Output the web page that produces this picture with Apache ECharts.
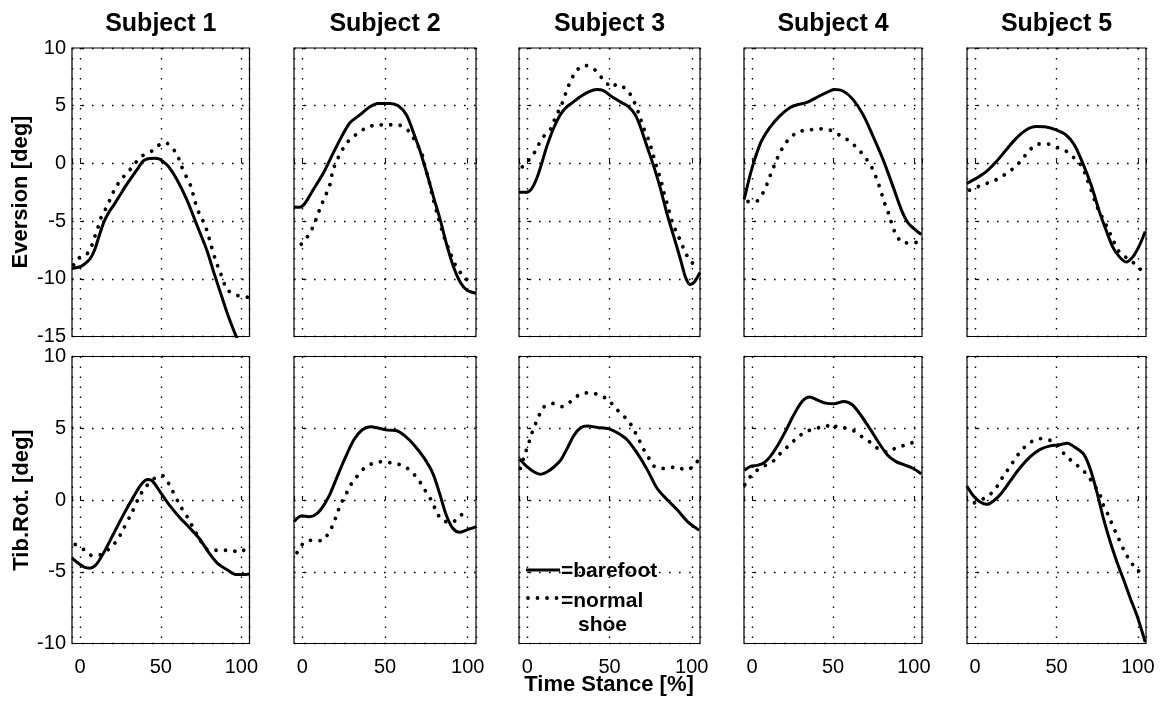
<!DOCTYPE html>
<html><head><meta charset="utf-8">
<script src="https://cdn.jsdelivr.net/npm/echarts@6/dist/echarts.min.js"></script>
<style>html,body{margin:0;padding:0;background:#fff}#c{width:1160px;height:701px}</style>
</head><body><div id="c"></div>
<script>
// ---------- DATA ----------
const subjects = ['Subject 1','Subject 2','Subject 3','Subject 4','Subject 5'];
const rowNames = ['Eversion [deg]','Tib.Rot. [deg]'];
const xTickLabels = [0, 50, 100];
const evTickLabels = [-15, -10, -5, 0, 5, 10];
const tibTickLabels = [-10, -5, 0, 5, 10];
const xLabel = 'Time Stance [%]';
const legendNames = ['=barefoot', '=normal', 'shoe'];

// Eversion, barefoot (solid) and normal shoe (dotted): [time %, deg]
const ev1Bare = [[-5,-9.1],[-1,-9.0],[2,-8.8],[6,-8.3],[9,-7.5],[12,-6.2],[15,-5.0],[18,-4.2],[21,-3.6],[25,-2.7],[29,-1.8],[33,-1.0],[36,-0.4],[39,0.2],[42,0.4],[46,0.45],[49,0.4],[52,0.1],[55,-0.3],[60,-1.4],[66,-3.1],[72,-5.2],[76,-6.6],[79,-7.7],[83,-9.5],[87,-11.2],[91,-12.9],[95,-14.4],[98,-15.4],[101,-16.3]];
const ev1Shoe = [[-4,-8.8],[-2,-8.3],[1,-8.1],[4,-7.9],[7,-7.2],[9,-6.4],[11,-5.6],[13,-4.7],[16,-3.9],[19,-3.0],[22,-2.1],[26,-1.3],[30,-0.7],[34,0],[38,0.6],[42,0.9],[46,1.2],[49,1.6],[53,1.8],[56,1.5],[60,0.8],[63,-0.3],[66,-1.2],[69,-2.1],[71,-3.2],[74,-4.4],[77,-5.2],[79,-6.0],[81,-7.0],[84,-8.4],[87,-9.5],[91,-10.9],[95,-11.3],[99,-11.5],[104,-11.6]];
const ev2Bare = [[-5,-3.77],[-1.6,-3.8],[1.4,-3.5],[6.5,-2.3],[12.5,-0.9],[18.6,0.87],[23.7,2.3],[28.7,3.5],[34.8,4.2],[40.9,4.9],[45.7,5.2],[53,5.2],[58,5.0],[63,4.2],[67,2.75],[71,1.16],[75.3,-0.87],[79.3,-2.9],[83.4,-4.9],[87.4,-7.1],[91.5,-9.0],[95.5,-10.3],[99.6,-11.0],[105,-11.25]];
const ev2Shoe = [[-0.6,-7.0],[3.4,-6.3],[6.5,-5.5],[9,-4.6],[11,-3.8],[14,-2.8],[16.6,-1.9],[18.5,-0.6],[21.7,0.5],[24.7,1.3],[28.3,2.0],[33.4,2.6],[38.9,3.1],[44.9,3.33],[51.4,3.35],[58,3.33],[63.6,2.9],[67.2,2.2],[70.2,1.45],[72.9,0.58],[74.3,-0.43],[76.3,-1.3],[78.3,-2.6],[81.4,-4.3],[85.8,-6.4],[88.5,-7.4],[92.5,-8.8],[96.6,-9.65],[101.2,-10.3]];
const ev3Bare = [[-5,-2.5],[-0.4,-2.5],[2.6,-2.2],[5.7,-1.33],[8.8,0],[11.8,1.42],[15.9,3.0],[20,4.2],[24,4.9],[28.1,5.33],[32.2,5.77],[37.3,6.2],[42.4,6.4],[46.4,6.3],[51.5,5.77],[56.6,5.33],[61.7,4.9],[65.8,4.17],[68.8,3.16],[72.9,1.42],[77,-0.3],[81,-2.2],[85,-4.4],[89.2,-6.4],[93.3,-8.4],[96.3,-9.9],[99,-10.5],[101.4,-10.3],[105,-9.45]];
const ev3Shoe = [[-3,-0.3],[-0.8,0],[3.7,0.78],[6.7,1.57],[9.8,2.3],[14.3,3.0],[16.9,3.9],[19.5,4.67],[22,5.48],[24,6.35],[26.5,7.16],[29.7,8.0],[34.8,8.5],[40.3,8.2],[44.8,7.5],[48.9,6.87],[51.5,7.07],[55,6.6],[58.2,6.6],[62.3,6.06],[65.4,5.2],[67.8,4.3],[70.9,3.0],[73.9,2.0],[76,1.0],[78,0],[80,-0.9],[81.5,-1.62],[83,-2.5],[85,-3.5],[88.2,-5.1],[90.8,-6.0],[93.3,-6.75],[95.7,-7.6],[99,-8.43],[103.5,-9.0]];
const ev4Bare = [[-4.9,-3.12],[-1.4,-1.1],[1.6,0.35],[5.8,1.94],[10.9,3.1],[17,4.1],[23.3,4.83],[28.4,5.1],[33.5,5.26],[39.7,5.7],[45.9,6.13],[51,6.4],[56.2,6.27],[62.3,5.55],[68.5,4.25],[74.7,2.37],[80.9,0.35],[87,-1.97],[92.2,-4.0],[96.3,-5.14],[100.4,-5.7],[104.5,-6.16]];
const ev4Shoe = [[-2.5,-3.3],[2.7,-3.27],[6.8,-2.54],[9.3,-1.76],[11.5,-0.95],[14,-0.09],[16.7,0.78],[19.6,1.5],[23.3,2.2],[28.8,2.75],[35.2,2.9],[41.8,3.0],[47.9,2.9],[52,2.6],[56.2,2.3],[61.3,1.8],[66,1.16],[70,0.5],[73.7,-0.29],[76.3,-1.1],[78.4,-1.9],[80.5,-2.83],[82.5,-3.7],[85,-4.57],[86.6,-5.4],[89.1,-6.16],[93.2,-6.88],[99.4,-6.88],[103.5,-6.8]];
const ev5Bare = [[-5.1,-1.74],[0.6,-1.3],[6.8,-0.72],[12.9,0.14],[19,1.16],[25.2,2.17],[31.3,2.9],[37.5,3.19],[43.6,3.16],[49.8,2.9],[55.9,2.46],[61,1.6],[66.2,0],[71.3,-1.88],[76.4,-4.2],[80.5,-5.8],[84.6,-7.25],[88.7,-8.1],[92.8,-8.55],[96.9,-8.1],[101,-7.1],[104.5,-5.9]];
const ev5Shoe = [[-3.5,-2.32],[3.1,-1.94],[8.8,-1.65],[14.5,-1.3],[20.1,-0.78],[25.2,-0.23],[29.3,0.43],[33,1.07],[38.5,1.68],[44.7,1.68],[50.8,1.36],[56.6,1.0],[61.1,0.43],[65.8,-0.29],[68.2,-1.16],[71.3,-2.32],[74.4,-3.6],[77.5,-4.5],[80.5,-5.36],[83,-6.1],[88.7,-7.7],[93.9,-8.26],[99.4,-8.84],[103.5,-9.5]];

// Tibial rotation, barefoot (solid) and normal shoe (dotted)
const tib1Bare = [[-5,-4.05],[0,-4.5],[3,-4.7],[6,-4.75],[10,-4.5],[15,-3.6],[21,-2.3],[27,-1.0],[33,0.2],[38,1.1],[42,1.42],[45,1.3],[50,0.5],[56,-0.45],[62,-1.25],[68,-1.95],[74,-2.7],[80,-3.7],[85,-4.4],[91,-4.85],[97,-5.2],[101,-5.2],[105,-5.15]];
const tib1Shoe = [[-3,-3.1],[3,-3.5],[8,-3.9],[13,-3.8],[18,-3.4],[23,-2.8],[26,-2.2],[32,-0.9],[37,0.3],[41,0.95],[46,1.5],[51,1.7],[56,0.9],[62,-0.4],[66,-1.1],[69,-1.7],[75,-2.9],[80,-3.5],[87,-3.5],[93,-3.5],[99,-3.65],[104,-3.2]];
const tib2Bare = [[-5,-1.5],[-0.2,-1.1],[3.9,-1.16],[6.9,-1.1],[11,-0.7],[16,0.23],[21,1.6],[26.2,3.0],[31.2,4.2],[36.3,4.9],[41.4,5.1],[46.4,5.0],[51.5,4.87],[56.6,4.85],[61.7,4.5],[67.8,3.8],[73.8,2.9],[78.9,1.86],[83,0.46],[87,-1.04],[91,-1.97],[95,-2.25],[99.2,-2.1],[105,-1.86]];
const tib2Shoe = [[-3.2,-3.67],[0.8,-3.0],[5.9,-2.8],[12,-2.83],[16,-2.27],[19,-1.62],[21,-0.95],[23.5,-0.23],[26.4,0.4],[29.2,1.04],[32.9,1.62],[37.3,2.2],[42.4,2.55],[48.5,2.67],[55.6,2.55],[58.6,2.48],[63.7,2.2],[68.4,1.67],[72.4,1.04],[75.3,0.46],[78.5,-0.12],[81,-0.8],[84.6,-1.4],[90,-1.58],[95.7,-1.07],[100.8,-0.7]];
const tib3Bare = [[-4.7,2.85],[0,2.3],[4,1.97],[8.1,1.79],[12.2,1.97],[16.2,2.3],[20.3,2.78],[24.3,3.6],[28.4,4.5],[32.5,5.03],[36.5,5.15],[42.6,5.06],[49.7,4.96],[54.8,4.68],[60.8,4.18],[66.9,3.25],[73,2.1],[79,0.8],[85.2,0],[91.3,-0.7],[97.4,-1.5],[104.5,-2.1]];
const tib3Shoe = [[-4.2,2.2],[-1.6,3.13],[0.6,3.83],[2.4,4.52],[4.5,5.15],[7.1,5.85],[9.7,6.45],[15.2,6.73],[21.3,6.5],[26.8,6.9],[32,7.36],[38,7.47],[44,7.3],[49.4,6.96],[53.8,6.38],[58.2,5.9],[61.9,5.45],[64.9,4.87],[68,4.18],[71,3.48],[74,2.9],[77.5,2.32],[83.2,2.2],[90.3,2.3],[96.3,2.1],[102,2.44],[104.5,3.0]];
const tib4Bare = [[-4.7,2.06],[-1,2.34],[3.1,2.41],[7.2,2.58],[11.3,3.04],[15.5,3.74],[20.6,4.78],[25.8,5.94],[30.9,6.87],[35.7,7.17],[40.2,6.98],[45.4,6.75],[50.5,6.7],[56.7,6.87],[61.9,6.64],[67,5.94],[73.2,4.9],[78.4,3.97],[83.5,3.16],[88.7,2.69],[93.8,2.46],[99,2.23],[104.5,1.83]];
const tib4Shoe = [[-4.5,1.07],[-1,1.65],[3.5,2.11],[8.9,2.46],[14,2.8],[18.6,3.39],[23.3,3.85],[28.2,4.38],[33.6,4.78],[39.8,4.99],[46,5.2],[49.1,4.96],[52.2,5.13],[56.1,5.06],[62.5,4.85],[67.6,4.43],[72.8,4.04],[78,3.57],[83.9,3.34],[89.7,3.69],[95.9,3.85],[101.6,4.13]];
const tib5Bare = [[-5.1,0.98],[-1,0.28],[3.1,-0.14],[7.2,-0.3],[11.3,-0.07],[16.4,0.51],[21.6,1.33],[27.7,2.26],[33.9,3.02],[40,3.53],[46.2,3.77],[51.3,3.84],[56.5,3.95],[61.6,3.65],[66.7,3.19],[70.8,2.14],[74.9,0.51],[79,-1.35],[83.2,-2.98],[87.3,-4.37],[91.4,-5.6],[95.5,-6.9],[99.6,-8.1],[104.5,-9.9]];
const tib5Shoe = [[-0.4,-0.19],[5.1,0.09],[10.3,0.51],[14.4,1.09],[17.5,1.72],[21.1,2.26],[24.6,2.88],[28.7,3.49],[33.5,3.98],[39.4,4.28],[45.2,4.19],[50.3,3.88],[55.4,3.12],[62,2.49],[66.7,2.02],[70.8,1.44],[74.9,0.74],[77,0.28],[79,-0.42],[82.1,-1.12],[84.6,-1.81],[87.3,-2.47],[92.4,-3.72],[95.9,-4.33],[100,-4.95],[103.7,-4.88]];

const evBare = [ev1Bare, ev2Bare, ev3Bare, ev4Bare, ev5Bare];
const evShoe = [ev1Shoe, ev2Shoe, ev3Shoe, ev4Shoe, ev5Shoe];
const tibBare = [tib1Bare, tib2Bare, tib3Bare, tib4Bare, tib5Bare];
const tibShoe = [tib1Shoe, tib2Shoe, tib3Shoe, tib4Shoe, tib5Shoe];

// ---------- LAYOUT ----------
const FONT = '"Liberation Sans", Arial, Helvetica, sans-serif';
const colLeft = [72, 294, 519, 744, 967];
const colWidth = [177.5, 182, 181, 178, 179];
const rowTop = [48, 356.5];
const rowHeight = [288.5, 287];
const yRange = [[-15, 10], [-10, 10]];

const grids = [], xAxes = [], yAxes = [], series = [];
const gridLine = { color: '#000', width: 1.4, type: [1.6, 8.4] };

for (let r = 0; r < 2; r++) {
  for (let c = 0; c < 5; c++) {
    const i = r * 5 + c;
    grids.push({ left: colLeft[c], top: rowTop[r], width: colWidth[c], height: rowHeight[r],
      show: true, borderColor: '#000', borderWidth: 1.2, backgroundColor: '#fff' });
    xAxes.push({ type: 'value', gridIndex: i, min: -5, max: 105, splitNumber: 2,
      minInterval: 50, maxInterval: 50,
      axisLine: { show: false },
      axisTick: { show: true, inside: true, length: 4, lineStyle: { color: '#000' } },
      axisLabel: { show: r === 1, color: '#000', fontSize: 20, fontFamily: FONT, margin: 14,
        formatter: v => xTickLabels.includes(v) ? String(v) : '' },
      splitLine: { show: true, lineStyle: gridLine } });
    const ticks = r === 0 ? evTickLabels : tibTickLabels;
    yAxes.push({ type: 'value', gridIndex: i, min: yRange[r][0], max: yRange[r][1], interval: 5,
      axisLine: { show: false },
      axisTick: { show: true, inside: true, length: 4, lineStyle: { color: '#000' } },
      axisLabel: { show: c === 0, color: '#000', fontSize: 20, fontFamily: FONT, margin: 6,
        formatter: v => ticks.includes(v) ? String(v) : '' },
      splitLine: { show: true, lineStyle: gridLine } });
    const bare = r === 0 ? evBare[c] : tibBare[c];
    const shoe = r === 0 ? evShoe[c] : tibShoe[c];
    series.push({ type: 'line', name: legendNames[1], xAxisIndex: i, yAxisIndex: i, data: shoe,
      showSymbol: false, symbol: 'none', smooth: 0.3, clip: true, silent: true,
      lineStyle: { color: '#000', width: 3.8, type: [0.01, 9.5], cap: 'round' } });
    series.push({ type: 'line', name: legendNames[0], xAxisIndex: i, yAxisIndex: i, data: bare,
      showSymbol: false, symbol: 'none', smooth: 0.3, clip: true, silent: true,
      lineStyle: { color: '#000', width: 3 } });
  }
}

const graphic = [];
subjects.forEach((s, c) => {
  graphic.push({ type: 'text', x: colLeft[c] + colWidth[c] / 2, y: 24,
    style: { text: s, font: 'bold 25px ' + FONT, fill: '#000', align: 'center', verticalAlign: 'middle' } });
});
graphic.push({ type: 'text', x: 21, y: 192, rotation: Math.PI / 2,
  style: { text: rowNames[0], font: 'bold 22px ' + FONT, fill: '#000', align: 'center', verticalAlign: 'middle' } });
graphic.push({ type: 'text', x: 22, y: 500, rotation: Math.PI / 2,
  style: { text: rowNames[1], font: 'bold 22px ' + FONT, fill: '#000', align: 'center', verticalAlign: 'middle' } });
graphic.push({ type: 'text', x: 609, y: 685,
  style: { text: xLabel, font: 'bold 22px ' + FONT, fill: '#000', align: 'center', verticalAlign: 'middle' } });
// legend
graphic.push({ type: 'line', shape: { x1: 526, y1: 570, x2: 560, y2: 570 }, style: { stroke: '#000', lineWidth: 3 }, z: 100 });
graphic.push({ type: 'text', x: 561, y: 571, z: 100,
  style: { text: legendNames[0], font: 'bold 21px ' + FONT, fill: '#000', align: 'left', verticalAlign: 'middle' } });
graphic.push({ type: 'line', shape: { x1: 528, y1: 598, x2: 560, y2: 598 }, z: 100,
  style: { stroke: '#000', lineWidth: 3.8, lineDash: [0.01, 9.5], lineCap: 'round' } });
graphic.push({ type: 'text', x: 561, y: 601, z: 100,
  style: { text: legendNames[1], font: 'bold 21px ' + FONT, fill: '#000', align: 'left', verticalAlign: 'middle' } });
graphic.push({ type: 'text', x: 578, y: 625, z: 100,
  style: { text: legendNames[2], font: 'bold 21px ' + FONT, fill: '#000', align: 'left', verticalAlign: 'middle' } });

const chart = echarts.init(document.getElementById('c'), null, { renderer: 'canvas' });
chart.setOption({
  animation: false,
  backgroundColor: '#fff',
  textStyle: { fontFamily: FONT },
  grid: grids, xAxis: xAxes, yAxis: yAxes, series: series, graphic: graphic
});
</script></body></html>
